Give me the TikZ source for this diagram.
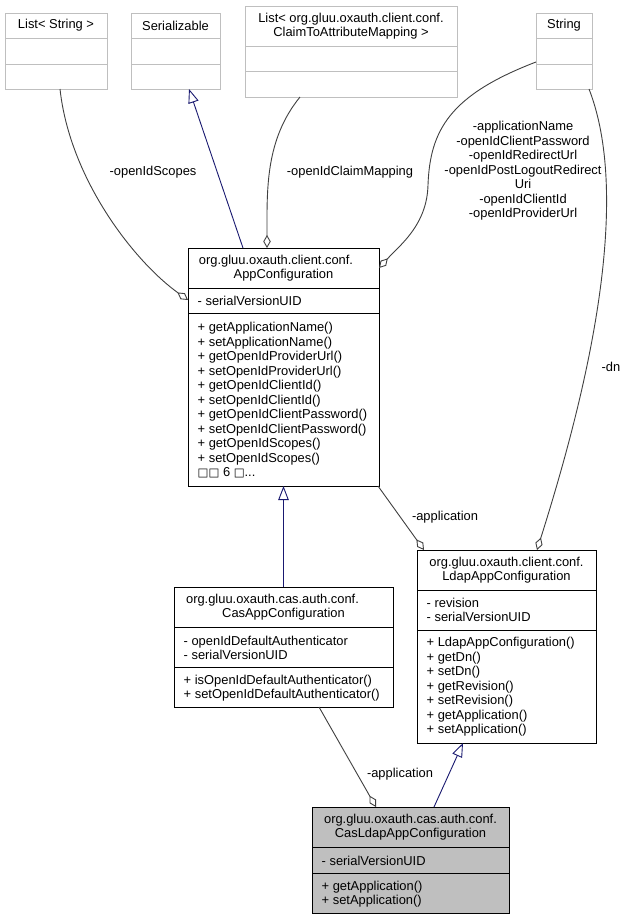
\documentclass[tikz,border=0pt]{standalone}
\usepackage{fontspec}
\setmainfont{Liberation Sans}
\newfontfamily\dejavu{DejaVu Sans}
\usetikzlibrary{arrows.meta}
\definecolor{edgegray}{HTML}{404040}
\definecolor{boxgray}{HTML}{BFBFBF}
\definecolor{navyline}{HTML}{191970}
\definecolor{focusfill}{HTML}{BFBFBF}
% name, x1, y1, x2, y2, div1, div2, node style, divider colour
\newcommand\umlbox[9]{%
  \node[#8, outer sep=0pt, minimum width={(#4)-(#2)}, minimum height={(#5)-(#3)}, anchor=north west] (#1) at (#2,#3) {};
  \draw[#9, line width=1pt] (#2,#6) -- (#4,#6);
  \draw[#9, line width=1pt] (#2,#7) -- (#4,#7);
}
\begin{document}
\begin{tikzpicture}[x=1pt,y=-1pt,
  every node/.style={font=\fontsize{12.9}{14.5}\selectfont, inner sep=0pt},
  topbox/.style={draw=boxgray, line width=1pt, fill=white},
  mainbox/.style={draw=black, line width=1pt, fill=white},
  focusbox/.style={draw=black, line width=1pt, fill=focusfill},
  hdr/.style={align=center, anchor=center},
  mem/.style={align=left, anchor=west},
  lbl/.style={align=center, anchor=center},
  assoc/.style={draw=edgegray, line width=0.9pt, -{Diamond[open, length=13pt, width=7.5pt]}},
  inherit/.style={draw=navyline, line width=0.9pt, -{Triangle[open, length=14pt, width=10.5pt]}}]
\useasboundingbox (0,0) rectangle (627,919);
\fill[white] (0,0) rectangle (627,919);

% top classes
\umlbox{ls}{5}{13}{107}{89}{38}{64}{topbox}{boxgray}
\node[hdr] (lsH) at (56,25.5) {List< String >};
\umlbox{ser}{131}{13}{220}{89}{38}{64}{topbox}{boxgray}
\node[hdr] (serH) at (175.5,25.5) {Serializable};
\umlbox{claim}{245}{6}{457}{97}{46}{71}{topbox}{boxgray}
\node[hdr] (claimH) at (351,26) {List< org.gluu.oxauth.client.conf.\\ClaimToAttributeMapping >};
\umlbox{str}{536}{13}{592}{89}{38}{64}{topbox}{boxgray}
\node[hdr] (strH) at (564,25.5) {String};

% AppConfiguration
\umlbox{app}{188}{248}{379}{486}{288}{313}{mainbox}{black}
\node[hdr] (appH) at (283.5,268) {org.gluu.oxauth.client.conf.\rule{15pt}{0pt}\\AppConfiguration};
\node[mem] (appA) at (197.5,301) {- serialVersionUID};
\node[mem] (appM) at (197.5,400.5) {+ getApplicationName()\\+ setApplicationName()\\+ getOpenIdProviderUrl()\\+ setOpenIdProviderUrl()\\+ getOpenIdClientId()\\+ setOpenIdClientId()\\+ getOpenIdClientPassword()\\+ setOpenIdClientPassword()\\+ getOpenIdScopes()\\+ setOpenIdScopes()\\{\dejavu\fontsize{11.5}{14.5}\selectfont □□} 6 {\dejavu\fontsize{11.5}{14.5}\selectfont □}...};

% CasAppConfiguration
\umlbox{cas}{174}{587}{393}{707}{627}{667}{mainbox}{black}
\node[hdr] (casH) at (283.5,607) {org.gluu.oxauth.cas.auth.conf.\rule{22pt}{0pt}\\CasAppConfiguration};
\node[mem] (casA) at (183.5,648) {- openIdDefaultAuthenticator\\- serialVersionUID};
\node[mem] (casM) at (183.5,688) {+ isOpenIdDefaultAuthenticator()\\+ setOpenIdDefaultAuthenticator()};

% LdapAppConfiguration
\umlbox{ldap}{417}{550}{596}{743}{590}{630}{mainbox}{black}
\node[hdr] (ldapH) at (506.5,570) {org.gluu.oxauth.client.conf.\\LdapAppConfiguration};
\node[mem] (ldapA) at (426.5,610) {- revision\\- serialVersionUID};
\node[mem] (ldapM) at (426.5,687) {+ LdapAppConfiguration()\\+ getDn()\\+ setDn()\\+ getRevision()\\+ setRevision()\\+ getApplication()\\+ setApplication()};

% CasLdapAppConfiguration
\umlbox{casldap}{312}{807}{509}{913}{847}{873}{focusbox}{black}
\node[hdr] (casldapH) at (410.5,827) {org.gluu.oxauth.cas.auth.conf.\\CasLdapAppConfiguration};
\node[mem] (casldapA) at (321.5,861) {- serialVersionUID};
\node[mem] (casldapM) at (321.5,894) {+ getApplication()\\+ setApplication()};

% connectors
\draw[assoc] ([xshift=4]ls.south) .. controls (70,180) and (135,262) .. ([yshift=67]app.west);
\node[lbl] (l1) at (153,172) {-openIdScopes};

\draw[inherit] ([xshift=-40.5]app.north) -- ([xshift=13.5]ser.south);

\draw[assoc] ([xshift=-51]claim.south) .. controls (265,140) and (267,190) .. ([xshift=-16.5]app.north);
\node[lbl] (l2) at (350,172) {-openIdClaimMapping};

\draw[assoc] ([yshift=-11]str.west) .. controls (450,95) and (430,130) .. (428,185) .. controls (427,225) and (400,245) .. ([yshift=99]app.east);
\node[lbl] (l3) at (523,171) {-applicationName\\-openIdClientPassword\\-openIdRedirectUrl\\-openIdPostLogoutRedirect\\Uri\\-openIdClientId\\-openIdProviderUrl};

\draw[assoc] ([xshift=25]str.south) .. controls (636,210) and (578,420) .. ([xshift=30.5]ldap.north);
\node[lbl] (l4) at (611,367) {-dn};

\draw[assoc] ([xshift=-1]app.south east) -- ([xshift=7]ldap.north west);
\node[lbl] (l5) at (445,517) {-application};

\draw[inherit] (cas.north) -- (app.south);

\draw[assoc] ([xshift=35.5]cas.south) -- ([xshift=-34.5]casldap.north);
\node[lbl] (l6) at (400,774) {-application};

\draw[inherit] ([xshift=23.5]casldap.north) -- ([xshift=-43.5]ldap.south);
\end{tikzpicture}
\end{document}
